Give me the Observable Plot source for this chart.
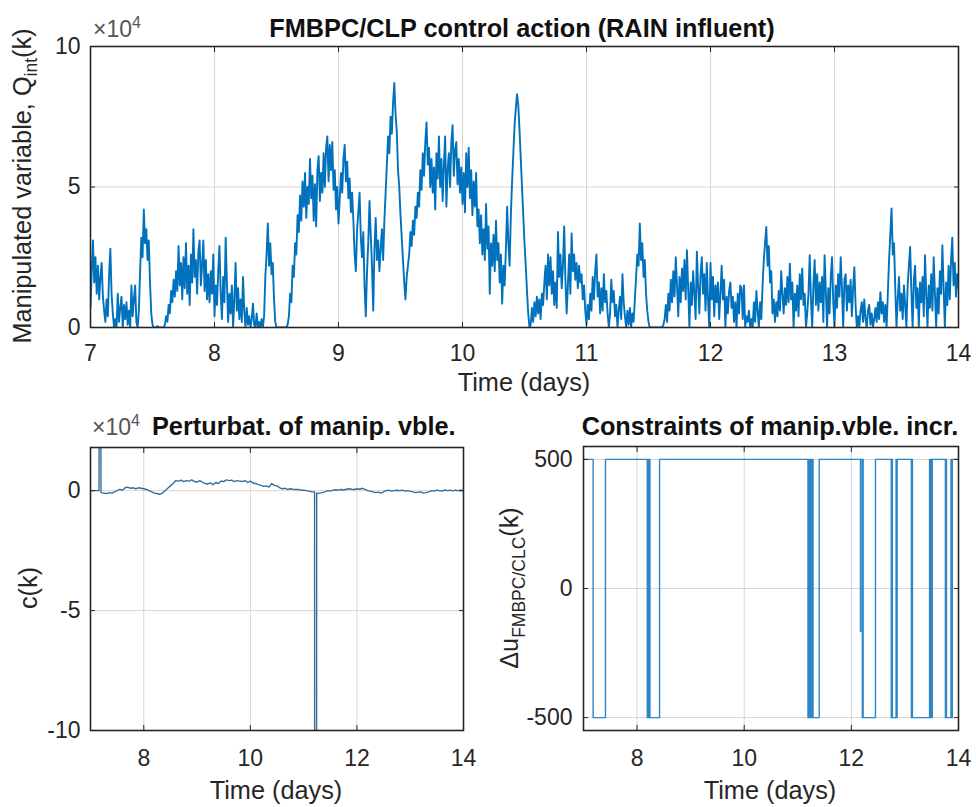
<!DOCTYPE html>
<html><head><meta charset="utf-8">
<script src="https://cdn.jsdelivr.net/npm/d3@7"></script>
<script src="https://cdn.jsdelivr.net/npm/@observablehq/plot@0.6"></script>
<style>
body{margin:0;background:#fff;}
#wrap{position:relative;width:976px;height:807px;overflow:hidden;font-family:"Liberation Sans",Arial,Helvetica,sans-serif;}
#wrap > svg{position:absolute;}
</style></head><body><div id="wrap"></div>
<script>
// ---------- DATA ----------
// Top: manipulated variable Q_int(k), in units of 1e4, sampled every 0.01 day (one array per day)
const q7 = [
0.7,2.0,3.1,1.6,2.5,1.2,2.2,1.0,1.8,2.3,
1.1,0.6,0.2,1.0,0.4,1.9,2.8,1.2,0.5,0.0,
0.3,0.0,1.2,0.2,0.7,1.1,0.0,0.8,0.3,0.9,
0.1,0.6,0.0,1.5,0.4,1.0,1.5,0.2,0.0,0.6,
2.0,3.2,2.5,4.2,3.0,3.5,2.4,3.1,1.6,0.5,
0.1,0.0,0.0,0.0,0.05,0.0,0.0,0.0,0.0,0.0,
0.1,0.4,0.2,0.8,0.5,1.3,0.9,1.7,1.1,2.0,
1.3,2.9,1.5,2.3,1.0,2.5,1.4,3.0,1.2,2.2,
0.8,2.6,1.6,3.5,1.8,2.4,1.2,2.7,3.1,1.5,
2.2,3.1,1.3,2.4,1.0,1.9,0.9,2.0,1.2,2.6];
const q8 = [
0.4,1.5,0.8,2.0,2.9,1.2,0.3,1.8,0.9,3.2,
1.6,0.2,1.2,0.5,1.5,0.0,1.0,2.3,0.6,1.4,
0.3,1.0,0.2,1.8,0.6,0.0,0.7,0.1,0.4,0.0,
0.3,0.85,0.1,0.0,0.5,0.0,0.2,0.0,0.3,0.0,
0.4,1.8,2.6,3.7,2.2,3.0,1.9,2.3,1.0,0.2,
0.0,0.0,0.0,0.0,0.0,0.0,0.0,0.0,0.0,0.1,
0.4,1.2,0.9,2.2,1.8,3.0,2.6,4.0,3.4,4.7,
3.8,5.2,4.3,5.5,3.9,5.0,4.4,6.0,4.6,5.4,
3.8,5.1,3.6,5.6,6.1,4.5,5.5,4.8,6.2,5.0,
6.4,6.8,5.2,6.5,5.6,6.6,4.9,5.6,4.2,5.0];
const q9 = [
3.7,4.6,5.5,4.8,6.0,6.5,5.2,5.9,4.6,5.3,
4.1,4.8,3.8,2.6,2.0,3.5,4.1,4.8,3.2,2.5,
3.4,1.5,0.4,2.0,3.0,4.5,3.3,2.2,0.6,2.8,
3.9,2.4,3.1,2.0,2.8,3.5,2.4,3.8,4.8,5.8,
6.8,6.2,7.5,6.9,8.0,8.7,7.6,7.0,5.6,5.0,
4.0,3.2,2.4,1.6,1.0,1.8,2.2,2.6,3.4,2.9,
3.8,3.3,4.3,3.9,4.8,4.3,5.6,4.9,6.2,5.4,
6.6,7.3,5.8,6.4,5.0,6.0,4.8,5.7,4.2,6.2,
5.3,6.8,5.0,6.0,4.5,5.8,6.8,4.3,5.6,6.2,
5.0,6.6,7.2,5.4,6.3,6.6,5.1,6.0,4.8,5.7];
const q10 = [
4.4,5.5,4.1,6.2,5.0,6.4,4.6,5.6,4.0,5.2,
4.3,5.5,3.6,4.2,3.0,4.0,2.6,3.5,2.4,4.4,
2.8,3.6,1.2,3.0,2.2,3.3,2.0,3.8,2.4,3.0,
1.6,2.6,0.85,2.2,1.5,2.8,4.3,3.0,2.2,4.0,
5.2,6.2,7.2,7.8,8.3,7.9,7.0,6.0,5.0,4.0,
3.0,2.2,1.3,0.5,0.0,0.1,0.7,0.2,0.9,0.4,
1.1,0.5,1.0,0.3,1.2,0.8,1.6,2.2,1.0,2.6,
1.5,2.5,1.2,2.0,0.8,1.6,0.7,3.4,1.8,2.6,
1.4,2.2,3.6,1.7,0.5,1.5,2.6,1.2,3.35,2.0,
2.6,1.7,2.3,1.4,2.2,1.6,1.9,1.0,1.5,0.6];
const q11 = [
0.1,0.8,0.3,1.2,0.6,1.8,1.0,2.0,2.6,1.1,
1.6,0.5,1.4,0.6,1.9,0.9,1.3,0.5,0.0,0.5,
1.7,0.9,1.3,0.4,0.8,0.0,0.6,1.1,0.3,1.9,
0.9,0.4,0.0,0.6,0.1,0.7,0.0,0.5,0.2,1.0,
1.8,2.6,2.2,3.7,2.4,3.0,1.8,2.4,1.2,0.6,
0.2,0.0,0.0,0.0,0.0,0.0,0.0,0.0,0.0,0.0,
0.0,0.0,0.1,0.3,0.8,0.2,1.2,0.6,1.7,0.9,
2.0,1.1,2.5,1.5,0.4,1.8,0.9,2.1,1.3,2.4,
1.0,2.75,1.4,0.0,1.6,0.8,2.0,1.2,0.3,2.7,
1.5,0.5,1.9,2.5,1.2,1.9,0.6,2.3,1.0,0.0];
const q12 = [
2.3,1.0,1.8,0.4,1.5,0.9,1.6,0.3,1.2,2.2,
1.0,1.7,0.0,1.1,0.5,1.3,1.6,0.7,1.1,0.2,
0.9,0.0,1.2,0.5,1.5,1.4,0.3,1.5,0.0,0.4,
0.2,0.6,0.0,0.3,0.0,0.9,0.2,1.3,0.6,0.0,
0.9,0.3,1.5,2.4,3.0,3.58,2.2,2.9,1.6,2.0,
0.5,1.0,0.2,0.9,0.4,1.3,0.6,2.0,1.2,0.5,
1.4,0.8,1.8,0.9,2.27,1.0,1.6,0.0,1.2,0.6,
1.5,0.4,1.9,1.0,2.1,0.8,1.2,0.0,0.5,1.2,
2.57,1.0,0.0,1.5,2.4,0.8,1.9,0.6,1.6,0.9,
1.8,0.2,2.57,1.3,0.0,1.4,0.5,1.8,2.5,0.9];
const q13 = [
0.0,1.5,0.7,1.9,1.1,2.5,1.4,0.0,1.7,1.9,
0.6,1.5,0.9,1.7,0.4,1.4,2.15,0.8,0.0,0.4,
0.0,0.6,0.9,0.2,1.0,0.3,0.0,0.6,0.8,0.1,
0.5,0.0,0.3,0.7,0.2,0.9,0.3,1.26,0.5,0.9,
0.2,0.8,0.0,1.2,2.4,3.3,4.24,2.6,3.0,1.4,
0.0,1.0,1.8,0.6,1.2,0.3,1.5,0.8,0.0,1.5,
2.2,2.87,1.3,0.0,1.7,2.2,0.7,1.4,0.0,1.6,
0.9,1.8,0.4,2.57,1.2,0.0,1.5,0.7,1.9,0.6,
2.5,1.2,0.0,1.4,0.5,2.0,1.2,2.93,1.4,0.0,
1.6,0.8,2.2,1.0,2.4,3.2,1.5,2.3,1.1,1.9];
const q14 = [1.4];

// Bottom-left: perturbation c(k), units of 1e4, sampled every 0.05 day
const cBase = [
0.0,0.0,0.0,0.0,-0.08,-0.1,-0.12,-0.08,-0.1,-0.05,0.0,0.05,0.02,0.12,0.15,0.1,0.12,0.08,0.12,0.1,
0.08,0.05,0.0,-0.05,-0.1,-0.12,-0.15,-0.1,0.0,0.1,0.2,0.3,0.42,0.4,0.44,0.38,0.42,0.4,0.45,0.38,
0.36,0.42,0.35,0.3,0.28,0.32,0.25,0.34,0.3,0.4,0.38,0.45,0.42,0.44,0.38,0.42,0.4,0.38,0.42,0.35,
0.4,0.32,0.3,0.25,0.22,0.18,0.2,0.15,0.3,0.22,0.2,0.12,0.08,0.1,0.05,0.08,0.06,0.05,0.05,0.03,
0.02,0.0,-0.02,-0.05,-0.05,-0.12,-0.1,-0.08,-0.05,0.0,-0.02,0.02,0.04,0.02,0.05,0.03,0.06,0.08,0.06,0.05,
0.08,0.06,0.1,0.05,0.0,-0.02,-0.05,-0.08,-0.06,-0.1,-0.05,0.0,0.02,-0.02,0.0,0.02,0.0,0.02,-0.02,0.0,
-0.03,-0.05,-0.08,-0.06,-0.05,-0.1,-0.08,-0.05,0.0,-0.02,0.02,0.0,-0.02,0.03,0.0,0.02,-0.01,0.02,0.0,0.02,
0.0];
// spikes in c(k): [time, value]
const cSpikes = [[7.16,0.0],[7.162,3.0],[7.195,3.0],[7.197,-0.05],
                 [11.205,-0.05],[11.207,-11],[11.243,-11],[11.245,-0.1]];

// Bottom-right: manipulated variable increment, switching times and value after switch
const duTime = [7.00,7.18,7.41,8.19,8.205,8.215,8.23,8.24,8.42,
  11.19,11.205,11.215,11.23,11.24,11.255,11.265,11.28,11.285,11.40,
  12.17,12.175,12.205,12.215,12.22,12.45,
  12.745,12.755,12.765,12.835,12.845,12.855,
  13.12,13.13,13.14,13.46,13.47,13.48,13.495,13.51,
  13.755,13.765,13.775,13.86,13.865,13.875,13.88,13.885,14.00];
const duVal = [500,-500,500,-500,500,-500,500,-500,500,
  -500,500,-500,500,-500,500,-500,500,-500,500,
  -167,500,-500,500,-500,500,
  -500,500,-500,500,-500,500,
  -500,500,-500,500,-500,500,-500,500,
  -500,500,-500,500,-500,500,-500,500,500];

const topXTicks = [7,8,9,10,11,12,13,14];
const topYTicks = [0,5,10];
const botXTicks = [8,10,12,14];
const cYTicks = [-10,-5,0];
const duYTicks = [-500,0,500];

// ---------- BUILD TABLES ----------
const qDays = [[7,q7],[8,q8],[9,q9],[10,q10],[11,q11],[12,q12],[13,q13],[14,q14]];
const qData = [];
for (const [d, arr] of qDays) arr.forEach((v, i) => qData.push({t: d + i / 100, v}));
const cData = cBase.map((v, i) => ({t: 7 + i * 0.05, v}))
  .concat(cSpikes.map(([t, v]) => ({t, v})))
  .sort((a, b) => a.t - b.t);
const duData = duTime.map((t, i) => ({t, v: duVal[i]}));

const FONT = '"Liberation Sans", Arial, Helvetica, sans-serif';
const INK = "#262626";

function panel(o) {
  return Plot.plot({
    width: o.width, height: o.height,
    marginTop: o.mt, marginBottom: o.mb, marginLeft: o.ml, marginRight: o.mr,
    style: {fontFamily: FONT, fontSize: "23px", color: INK, background: "transparent", overflow: "visible"},
    x: {domain: o.xDomain, label: null},
    y: {domain: o.yDomain, label: null},
    marks: [
      Plot.gridX(o.xTicks, {stroke: "#d6d6d6", strokeOpacity: 1}),
      Plot.gridY(o.yTicks, {stroke: "#d6d6d6", strokeOpacity: 1}),
      Plot.line(o.data, {x: "t", y: "v", stroke: o.stroke, strokeWidth: o.sw, curve: o.curve || "linear", clip: true}),
      Plot.frame({stroke: INK, strokeWidth: 1.6}),
      Plot.axisX(o.xTicks, {anchor: "bottom", tickSize: -5, tickPadding: o.xPad, tickFormat: d => String(d), label: null, stroke: INK}),
      Plot.axisX(o.xTicks, {anchor: "top", tickSize: -5, tickFormat: () => "", label: null, stroke: INK}),
      Plot.axisY(o.yTicks, {anchor: "left", tickSize: -5, tickPadding: o.yPad, tickFormat: d => String(d), label: null, stroke: INK}),
      Plot.axisY(o.yTicks, {anchor: "right", tickSize: -5, tickFormat: () => "", label: null, stroke: INK})
    ]
  });
}

const wrapEl = document.getElementById("wrap");

const topPlot = panel({width: 976, height: 400, mt: 46, mb: 73, ml: 90, mr: 18,
  xDomain: [7, 14], yDomain: [0, 10], xTicks: topXTicks, yTicks: topYTicks,
  data: qData, stroke: "#0072BD", sw: 1.9, xPad: 22, yPad: 15});
topPlot.style.left = "0px"; topPlot.style.top = "0px";
wrapEl.appendChild(topPlot);

const blPlot = panel({width: 490, height: 407, mt: 47, mb: 77, ml: 90, mr: 27,
  xDomain: [7, 14], yDomain: [-10, 1.8], xTicks: botXTicks, yTicks: cYTicks,
  data: cData, stroke: "#336f9e", sw: 1.4, xPad: 24, yPad: 15});
blPlot.style.left = "0px"; blPlot.style.top = "400px";
wrapEl.appendChild(blPlot);

const brPlot = panel({width: 486, height: 407, mt: 46, mb: 77, ml: 93, mr: 18,
  xDomain: [7, 14], yDomain: [-550, 550], xTicks: botXTicks, yTicks: duYTicks,
  data: duData, stroke: "#2f86c6", sw: 1.4, curve: "step-after", xPad: 24, yPad: 16});
brPlot.style.left = "490px"; brPlot.style.top = "400px";
wrapEl.appendChild(brPlot);

// ---------- TEXT OVERLAY ----------
const svgNS = "http://www.w3.org/2000/svg";
const ov = document.createElementNS(svgNS, "svg");
ov.setAttribute("width", 976); ov.setAttribute("height", 807);
ov.style.left = "0px"; ov.style.top = "0px";
ov.setAttribute("font-family", FONT);
ov.setAttribute("fill", INK);
ov.innerHTML = `
<text x="522" y="37" text-anchor="middle" font-weight="bold" font-size="25.3" fill="#111">FMBPC/CLP control action (RAIN influent)</text>
<text x="93" y="37" font-size="23" fill="#555">×10<tspan dy="-9" font-size="16">4</tspan></text>
<text x="524" y="391" text-anchor="middle" font-size="25.3">Time (days)</text>
<text transform="translate(31,186) rotate(-90)" text-anchor="middle" font-size="25.3">Manipulated variable, Q<tspan dy="6" font-size="17.5">int</tspan><tspan dy="-6">(k)</tspan></text>

<text x="152" y="435" font-weight="bold" font-size="25.3" fill="#111">Perturbat. of manip. vble.</text>
<text x="92" y="435" font-size="23" fill="#555">×10<tspan dy="-9" font-size="16">4</tspan></text>
<text x="276" y="799" text-anchor="middle" font-size="25.3">Time (days)</text>
<text transform="translate(37,588) rotate(-90)" text-anchor="middle" font-size="25.3">c(k)</text>

<text x="770" y="435" text-anchor="middle" font-weight="bold" font-size="25.3" fill="#111">Constraints of manip.vble. incr.</text>
<text x="770" y="799" text-anchor="middle" font-size="25.3">Time (days)</text>
<text transform="translate(518,588) rotate(-90)" text-anchor="middle" font-size="25.3">Δu<tspan dy="7" font-size="17.5">FMBPC/CLC</tspan><tspan dy="-7">(k)</tspan></text>
`;
wrapEl.appendChild(ov);
</script></body></html>
